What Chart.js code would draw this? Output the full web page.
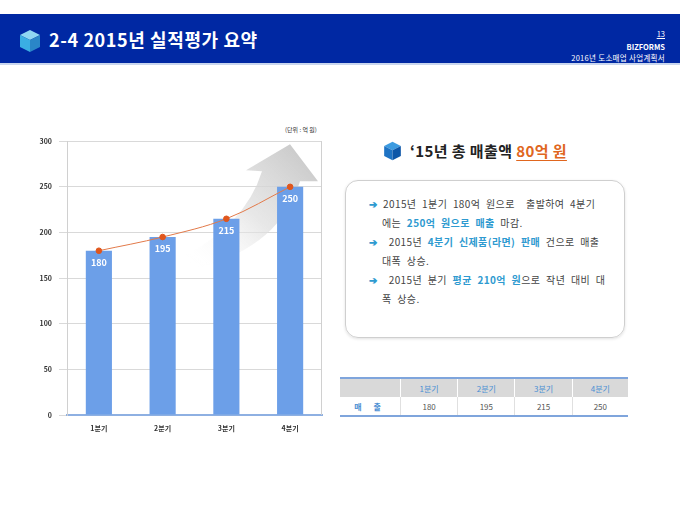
<!DOCTYPE html>
<html>
<head>
<meta charset="utf-8">
<script src="https://cdn.jsdelivr.net/npm/chart.js@4.4.0/dist/chart.umd.min.js"></script>
<style>
  body { margin:0; width:680px; height:510px; background:#fff; position:relative; overflow:hidden;
         font-family:"Noto Sans CJK KR","Noto Sans",sans-serif; }
  .band { position:absolute; left:0; top:14px; width:680px; height:49px; background:#0028a3; }
  .bandline { position:absolute; left:0; top:63px; width:680px; height:2px; background:#c9d6ee; }
  .title { position:absolute; left:49px; top:26px; color:#fff; font-size:18px; font-weight:bold; line-height:26px; letter-spacing:0.6px; }
  .pg { position:absolute; right:15px; color:#fff; font-size:7.5px; line-height:9px; text-align:right; }
  .unit { position:absolute; left:285px; top:125px; font-size:6px; color:#333; }
  #wrap { position:absolute; left:30px; top:130px; width:300px; height:315px; }
  .head2 { position:absolute; left:410px; top:140px; font-size:15px; font-weight:bold; color:#222; letter-spacing:0.4px; }
  .head2 span { color:#e0661e; text-decoration:underline; text-underline-offset:3px; }
  .box { position:absolute; left:345px; top:180px; width:278px; height:156px; border:1px solid #cfcfcf;
         border-radius:13px; box-shadow:0 1px 3px rgba(0,0,0,0.12); }
  .txt { position:absolute; left:369px; top:194px; width:256px; font-size:10px; line-height:19px; color:#444;
         letter-spacing:0.4px; word-spacing:3px; white-space:nowrap; }
  .txt p { margin:0; }
  .txt .ind { padding-left:13px; }
  .arr { color:#2e9ad0; font-weight:bold; }
  .hl { color:#2e9ad0; font-weight:bold; }
  table { position:absolute; left:340px; top:377px; width:288px; border-collapse:collapse;
          border-top:2px solid #7fa5dc; border-bottom:2px solid #7fa5dc; font-size:8px; }
  td { height:18px; text-align:center; border-left:1px solid #e0e0e0; padding:0; }
  td:first-child { border-left:none; width:60px; }
  tr.h td { background:#d9d9d9; color:#4a8fd3; border-left:1px solid #fff; }
  tr.h td:first-child { border-left:none; }
  tr.v td { color:#555; }
  tr.v td:first-child { color:#4a8fd3; font-weight:bold; letter-spacing:5px; }
</style>
</head>
<body>
<div class="band"></div>
<div class="bandline"></div>
<svg style="position:absolute;left:19px;top:29px" width="22" height="24" viewBox="0 0 22 24">
  <polygon points="11,1 21,6 11,11 1,6" fill="#8fd6f2"/>
  <polygon points="1,6 11,11 11,23 1,18" fill="#3aaee3"/>
  <polygon points="11,11 21,6 21,18 11,23" fill="#2a86c8"/>
</svg>
<div class="title">2-4 2015년 실적평가 요약</div>
<div class="pg" style="top:29px;text-decoration:underline">13</div>
<div class="pg" style="top:42px;font-weight:bold">BIZFORMS</div>
<div class="pg" style="top:53px;letter-spacing:0.3px">2016년 도소매업 사업계획서</div>

<div class="unit">(단위 : 억 원)</div>
<div id="wrap"><canvas id="salesChart"></canvas></div>

<svg style="position:absolute;left:383px;top:141px" width="19" height="20" viewBox="0 0 22 24">
  <polygon points="11,1 21,6 11,11 1,6" fill="#3d9be0"/>
  <polygon points="1,6 11,11 11,23 1,18" fill="#1e73c4"/>
  <polygon points="11,11 21,6 21,18 11,23" fill="#0d56a8"/>
</svg>
<div class="head2">‘15년 총 매출액 <span>80억 원</span></div>

<div class="box"></div>
<div class="txt">
  <p><span class="arr">➔</span> 2015년 1분기 180억 원으로 &nbsp;출발하여 4분기</p>
  <p class="ind">에는 <span class="hl">250억 원으로 매출</span> 마감.</p>
  <p><span class="arr">➔</span> &nbsp;2015년 <span class="hl">4분기 신제품(라면) 판매</span> 건으로 매출</p>
  <p class="ind">대폭 상승.</p>
  <p><span class="arr">➔</span> &nbsp;2015년 분기 <span class="hl">평균 210억 원</span>으로 작년 대비 대</p>
  <p class="ind">폭 상승.</p>
</div>

<table id="tbl"></table>

<script>
var quarters = ['1분기', '2분기', '3분기', '4분기'];
var sales = [180, 195, 215, 250];
var yTicks = [0, 50, 100, 150, 200, 250, 300];

// table under the text box
var tbl = document.getElementById('tbl');
var rowH = '<tr class="h"><td></td>' + quarters.map(function (q) { return '<td>' + q + '</td>'; }).join('') + '</tr>';
var rowV = '<tr class="v"><td>매 출</td>' + sales.map(function (v) { return '<td>' + v + '</td>'; }).join('') + '</tr>';
tbl.innerHTML = rowH + rowV;

// grey growth arrow behind the bars
var arrowPlugin = {
  id: 'arrow',
  beforeDatasetsDraw: function (chart) {
    var ca = chart.chartArea, ctx = chart.ctx;
    var ox = ca.left - 67, oy = ca.top - 140;
    ctx.save();
    var g = ctx.createLinearGradient(ox + 300, oy + 150, ox + 190, oy + 262);
    g.addColorStop(0, 'rgba(200,200,200,0.95)');
    g.addColorStop(0.5, 'rgba(222,222,222,0.7)');
    g.addColorStop(1, 'rgba(255,255,255,0)');
    ctx.fillStyle = g;
    ctx.beginPath();
    ctx.moveTo(ox + 178, oy + 258);
    ctx.quadraticCurveTo(ox + 245, oy + 225, ox + 262, oy + 170);
    ctx.lineTo(ox + 246, oy + 169);
    ctx.lineTo(ox + 290, oy + 143);
    ctx.lineTo(ox + 318, oy + 180);
    ctx.lineTo(ox + 300, oy + 180);
    ctx.quadraticCurveTo(ox + 280, oy + 245, ox + 200, oy + 266);
    ctx.closePath();
    ctx.fill();
    ctx.restore();
  }
};

// white value labels inside the bars + frame on the plot area
var labelPlugin = {
  id: 'labels',
  afterDraw: function (chart) {
    var ctx = chart.ctx, ca = chart.chartArea;
    ctx.save();
    ctx.strokeStyle = '#d0d0d0';
    ctx.lineWidth = 1;
    ctx.beginPath();
    ctx.moveTo(ca.right - 0.5, ca.top);
    ctx.lineTo(ca.right - 0.5, ca.bottom);
    ctx.stroke();
    var meta = chart.getDatasetMeta(1);
    ctx.fillStyle = '#fff';
    ctx.font = 'bold 9px "Noto Sans CJK KR", sans-serif';
    ctx.textAlign = 'center';
    ctx.textBaseline = 'middle';
    meta.data.forEach(function (bar, i) {
      ctx.fillText(String(sales[i]), bar.x, bar.y + 12);
    });
    ctx.restore();
  }
};

var tickFont = { family: '"Noto Sans CJK KR", sans-serif', size: 7, weight: 'bold' };

new Chart(document.getElementById('salesChart'), {
  data: {
    labels: quarters,
    datasets: [
      {
        type: 'line',
        data: sales,
        borderColor: '#e27a4a',
        borderWidth: 1,
        pointBackgroundColor: '#e0561c',
        pointBorderColor: '#e0561c',
        pointRadius: 2.8,
        tension: 0.35,
        order: 0
      },
      {
        type: 'bar',
        data: sales,
        backgroundColor: '#6c9fe8',
        barPercentage: 0.82,
        categoryPercentage: 0.5,
        order: 1
      }
    ]
  },
  options: {
    responsive: true,
    maintainAspectRatio: false,
    animation: false,
    events: [],
    layout: { padding: { top: 10, right: 8, left: 0, bottom: 0 } },
    plugins: { legend: { display: false }, tooltip: { enabled: false } },
    scales: {
      x: {
        grid: { display: false },
        border: { color: '#8eb0e2', width: 2 },
        ticks: { font: tickFont, color: '#333', padding: 1 },
        afterFit: function (s) { s.height = 30; }
      },
      y: {
        min: 0,
        max: 300,
        afterBuildTicks: function (s) { s.ticks = yTicks.map(function (v) { return { value: v }; }); },
        grid: { color: '#d9d9d9', lineWidth: 1 },
        border: { color: '#d0d0d0' },
        ticks: { font: tickFont, color: '#333', padding: 7 },
        afterFit: function (s) { s.width = 37; }
      }
    }
  },
  plugins: [arrowPlugin, labelPlugin]
});
</script>
</body>
</html>
